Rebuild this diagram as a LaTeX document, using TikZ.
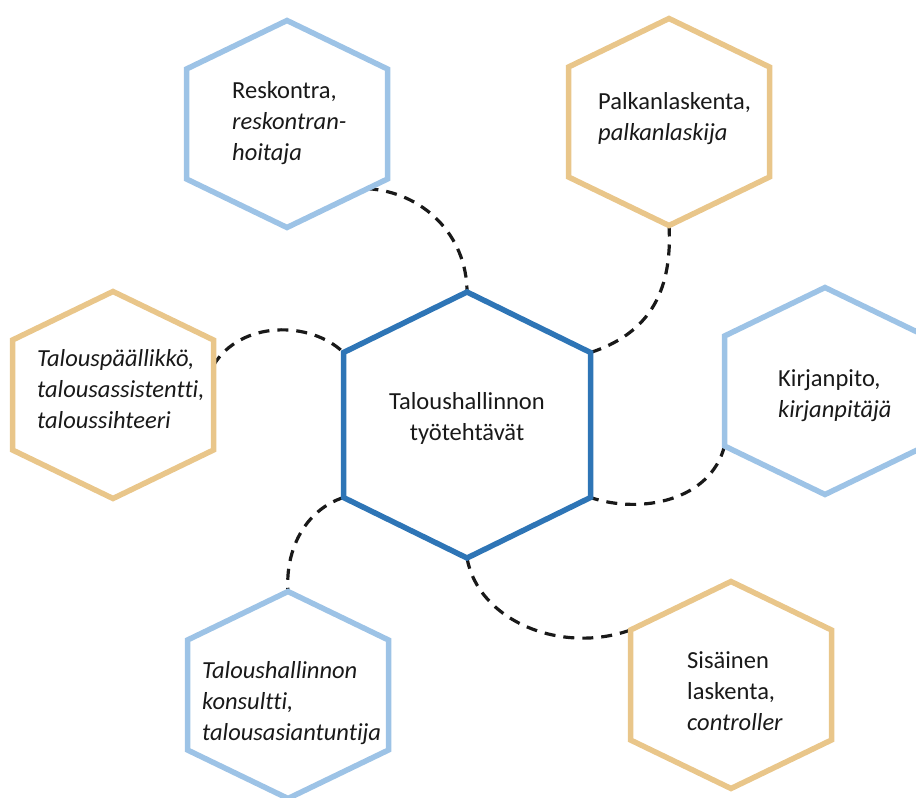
\documentclass[tikz,border=0pt]{standalone}
\usepackage{fontspec}
\setmainfont{Carlito}[Ligatures=NoCommon]
\usetikzlibrary{calc}
\definecolor{hexblue}{RGB}{157,195,230}
\definecolor{hexgold}{RGB}{233,198,138}
\definecolor{coreblue}{RGB}{46,117,182}
\definecolor{txt}{RGB}{25,25,25}
\newcommand{\hexshape}[7]{%
  \coordinate (#1-t) at (#2,#3-#5);
  \coordinate (#1-ur) at (#2+#4,#3-#6);
  \coordinate (#1-lr) at (#2+#4,#3+#6);
  \coordinate (#1-b) at (#2,#3+#5);
  \coordinate (#1-ll) at (#2-#4,#3+#6);
  \coordinate (#1-ul) at (#2-#4,#3-#6);
  \draw[#7] (#1-t) -- (#1-ur) -- (#1-lr) -- (#1-b) -- (#1-ll) -- (#1-ul) -- cycle;
}
\tikzset{
  bluehex/.style={draw=hexblue, line width=5.5pt, line join=miter},
  goldhex/.style={draw=hexgold, line width=5.5pt, line join=miter},
  corehex/.style={draw=coreblue, line width=5.5pt, line join=miter},
  conn/.style={draw=black!90, line width=3.2pt, dash pattern=on 11pt off 8pt},
  lbl/.style={font=\fontsize{24.5}{31}\selectfont, text=txt, align=left, anchor=west, inner sep=0pt},
  clbl/.style={font=\fontsize{24.5}{31}\selectfont, text=txt, align=center, inner sep=0pt}
}
\begin{document}
\begin{tikzpicture}[x=1pt,y=-1pt]
\useasboundingbox (0,0) rectangle (916,798);
\clip (0,0) rectangle (916,798);
% shape coordinates (drawn later), define first via invisible pass
\hexshape{r}{287}{124}{100.5}{103.5}{55}{draw=none}
\hexshape{p}{669}{122}{100.5}{103.5}{55}{draw=none}
\hexshape{tp}{113}{395}{100.5}{103.5}{55}{draw=none}
\hexshape{k}{825}{391}{100.5}{103.5}{55}{draw=none}
\hexshape{ko}{288}{695}{100.5}{103.5}{55}{draw=none}
\hexshape{s}{731}{685}{100.5}{103.5}{55}{draw=none}
\hexshape{c}{467}{425}{123.5}{133}{72.5}{draw=none}
\coordinate (r-start) at ($(r-lr)!0.2!(r-b)$);
\coordinate (tp-start) at ($(tp-ur)!0.23!(tp-lr)$);
% connectors
\draw[conn] (r-start) .. controls +(55,3) and +(0,-57) .. (c-t);
\draw[conn] (p-b) .. controls +(4,70) and +(55,-18) .. (c-ur);
\draw[conn] (tp-start) .. controls +(27,-45) and +(-33,-32) .. (c-ul);
\draw[conn] (k-ll) .. controls +(-14,55) and +(50,17) .. (c-lr);
\draw[conn] (c-ll) .. controls +(-38.5,12.5) and +(-3,-41.5) .. (ko-t);
\draw[conn] (c-b) .. controls +(11,62) and +(-70.5,25) .. (s-ul);
% hexagons
\hexshape{r}{287}{124}{100.5}{103.5}{55}{bluehex}
\hexshape{p}{669}{122}{100.5}{103.5}{55}{goldhex}
\hexshape{tp}{113}{395}{100.5}{103.5}{55}{goldhex}
\hexshape{k}{825}{391}{100.5}{103.5}{55}{bluehex}
\hexshape{ko}{288}{695}{100.5}{103.5}{55}{bluehex}
\hexshape{s}{731}{685}{100.5}{103.5}{55}{goldhex}
\hexshape{c}{467}{425}{123.5}{133}{72.5}{corehex}
% labels
\node[lbl] (rtext) at (232,123) {Reskontra,\\\textit{reskontran-}\\\textit{hoitaja}};
\node[lbl] (ptext) at (598,119) {Palkanlaskenta,\\\textit{palkanlaskija}};
\node[lbl] (tptext) at (37,389) {\textit{Talouspäällikkö,}\\\textit{talousassistentti,}\\\textit{taloussihteeri}};
\node[lbl] (ktext) at (778,396) {Kirjanpito,\\\textit{kirjanpitäjä}};
\node[lbl] (kotext) at (202,703) {\textit{Taloushallinnon}\\\textit{konsultti,}\\\textit{talousasiantuntija}};
\node[lbl] (stext) at (687,691) {Sisäinen\\laskenta,\\\textit{controller}};
\node[clbl] (ctext) at (467,418) {Taloushallinnon\\työtehtävät};
\end{tikzpicture}
\end{document}
